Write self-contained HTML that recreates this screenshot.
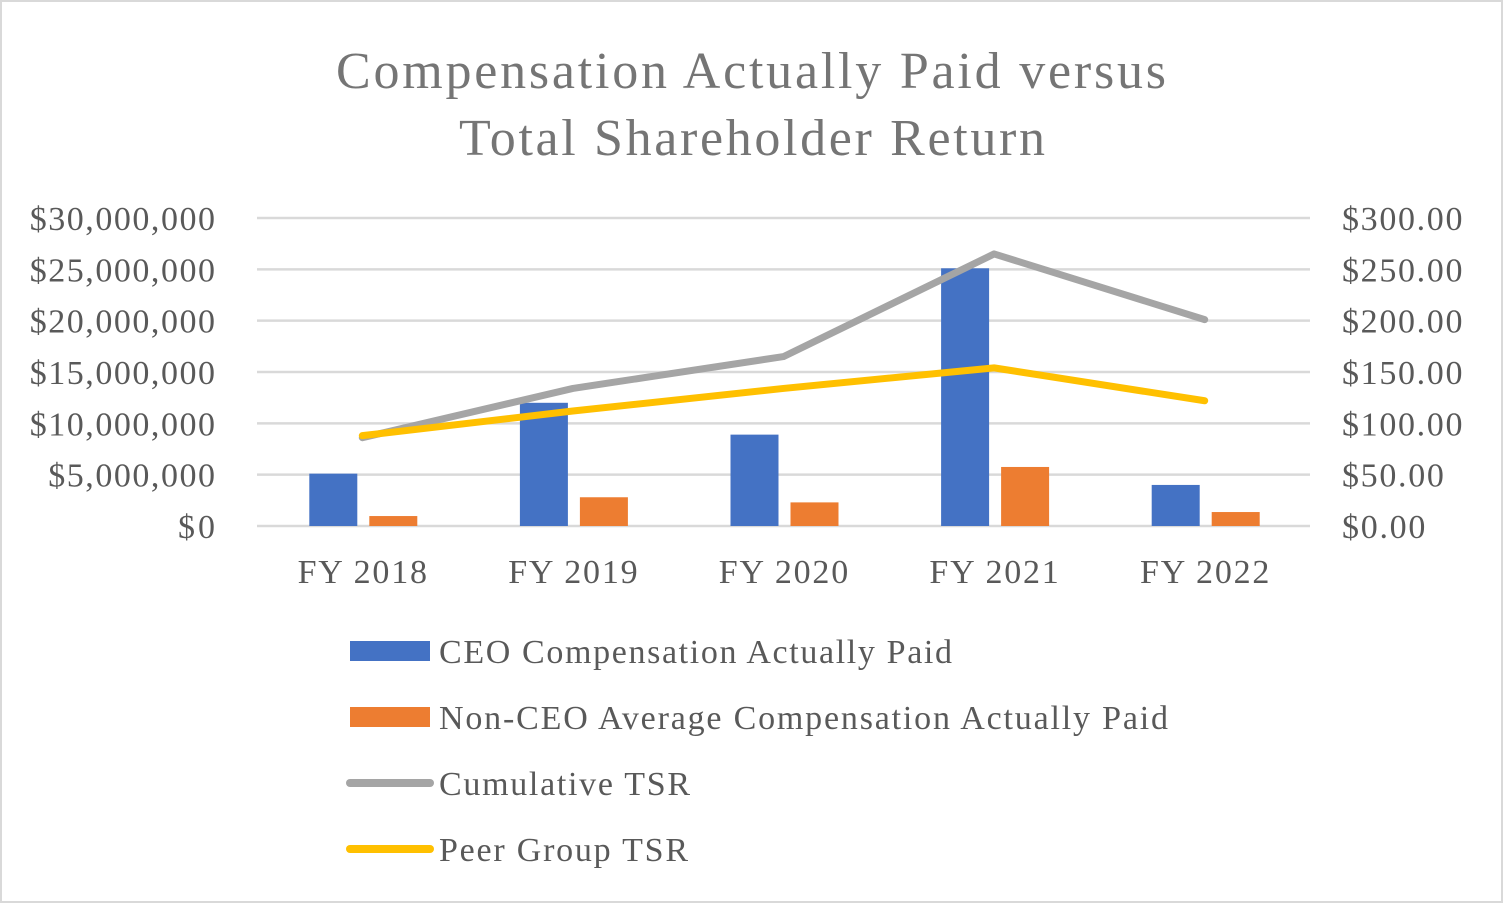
<!DOCTYPE html>
<html><head><meta charset="utf-8"><style>
html,body{margin:0;padding:0;background:#fff;}
svg{display:block;font-family:"Liberation Serif",serif;}
</style></head><body>
<svg id="chart" width="1503" height="903" viewBox="0 0 1503 903">
<rect x="1" y="1" width="1501" height="901" fill="#fff" stroke="#d9d9d9" stroke-width="2"/>
<text x="751" y="88" text-anchor="middle" font-size="52" fill="#757575" textLength="830" lengthAdjust="spacing">Compensation Actually Paid versus</text>
<text x="752" y="155" text-anchor="middle" font-size="52" fill="#757575" textLength="586" lengthAdjust="spacing">Total Shareholder Return</text>
<g id="grid"></g><g id="bars"></g><g id="lines"></g><g id="labels"></g>
<g>
<rect x="350" y="641" width="80" height="20" fill="#4472c4"/>
<text x="439" y="663" font-size="34" fill="#595959" textLength="513" lengthAdjust="spacing">CEO Compensation Actually Paid</text>
<rect x="350" y="707" width="80" height="20" fill="#ed7d31"/>
<text x="439" y="729" font-size="34" fill="#595959" textLength="729" lengthAdjust="spacing">Non-CEO Average Compensation Actually Paid</text>
<line x1="350" y1="783" x2="430" y2="783" stroke="#a5a5a5" stroke-width="8" stroke-linecap="round"/>
<text x="439" y="795" font-size="34" fill="#595959" textLength="251" lengthAdjust="spacing">Cumulative TSR</text>
<line x1="350" y1="849" x2="430" y2="849" stroke="#ffc000" stroke-width="8" stroke-linecap="round"/>
<text x="439" y="861" font-size="34" fill="#595959" textLength="249" lengthAdjust="spacing">Peer Group TSR</text>
</g>
</svg>
<script>
const categories = ["FY 2018","FY 2019","FY 2020","FY 2021","FY 2022"];
const ceoPay = [5100000, 12000000, 8900000, 25100000, 4000000];
const nonCeoPay = [970000, 2800000, 2300000, 5750000, 1360000];
const cumulativeTsr = [86, 134, 165, 265, 201];
const peerTsr = [88, 112, 134, 154, 122];
const leftTicks = ["$0","$5,000,000","$10,000,000","$15,000,000","$20,000,000","$25,000,000","$30,000,000"];
const rightTicks = ["$0.00","$50.00","$100.00","$150.00","$200.00","$250.00","$300.00"];

const NS="http://www.w3.org/2000/svg";
const X0=257,X1=1310,Y0=526,Y1=218;
const band=(X1-X0)/categories.length;
const xc=i=>X0+band*(i+0.5);
const yL=v=>Y0-(v/30000000)*(Y0-Y1);
const yR=v=>Y0-(v/300)*(Y0-Y1);
function mk(tag,attrs,parent){const e=document.createElementNS(NS,tag);for(const k in attrs)e.setAttribute(k,attrs[k]);document.getElementById(parent).appendChild(e);return e;}
const SC=1.09;
for(let i=0;i<leftTicks.length;i++){
  const y=Y0-i*(Y0-Y1)/(leftTicks.length-1);
  const g=mk("line",{x1:X0,x2:X1,y1:y,y2:y,stroke:"#d9d9d9","stroke-width":2.5},"grid");
  
  
  const t=mk("text",{x:215,y:y+12,"text-anchor":"end","font-size":34,fill:"#595959"},"labels");
  t.textContent=leftTicks[i];
  
  
  const r=mk("text",{x:1342,y:y+12,"font-size":34,fill:"#595959"},"labels");
  r.textContent=rightTicks[i];
  
  
  [t,r].forEach(el=>{const w=el.getComputedTextLength();el.setAttribute("textLength",w*SC);el.setAttribute("lengthAdjust","spacing");});
}
categories.forEach((c,i)=>{
  const t=mk("text",{x:xc(i),y:583,"text-anchor":"middle","font-size":34,fill:"#595959"},"labels");
  t.textContent=c;
  
  
  t.setAttribute("textLength",t.getComputedTextLength()*SC);
  t.setAttribute("lengthAdjust","spacing");
  const b=mk("rect",{x:xc(i)-53,y:yL(ceoPay[i]),width:48,height:Y0-yL(ceoPay[i]),fill:"#4472c4"},"bars");
  
  
  const o=mk("rect",{x:xc(i)+7,y:yL(nonCeoPay[i]),width:48,height:Y0-yL(nonCeoPay[i]),fill:"#ed7d31"},"bars");
  
  
});
const p1=mk("polyline",{points:cumulativeTsr.map((v,i)=>xc(i)+","+yR(v)).join(" "),fill:"none",stroke:"#a5a5a5","stroke-width":7,"stroke-linecap":"round","stroke-linejoin":"round"},"lines");


const p2=mk("polyline",{points:peerTsr.map((v,i)=>xc(i)+","+yR(v)).join(" "),fill:"none",stroke:"#ffc000","stroke-width":7,"stroke-linecap":"round","stroke-linejoin":"round"},"lines");


</script>
</body></html>
